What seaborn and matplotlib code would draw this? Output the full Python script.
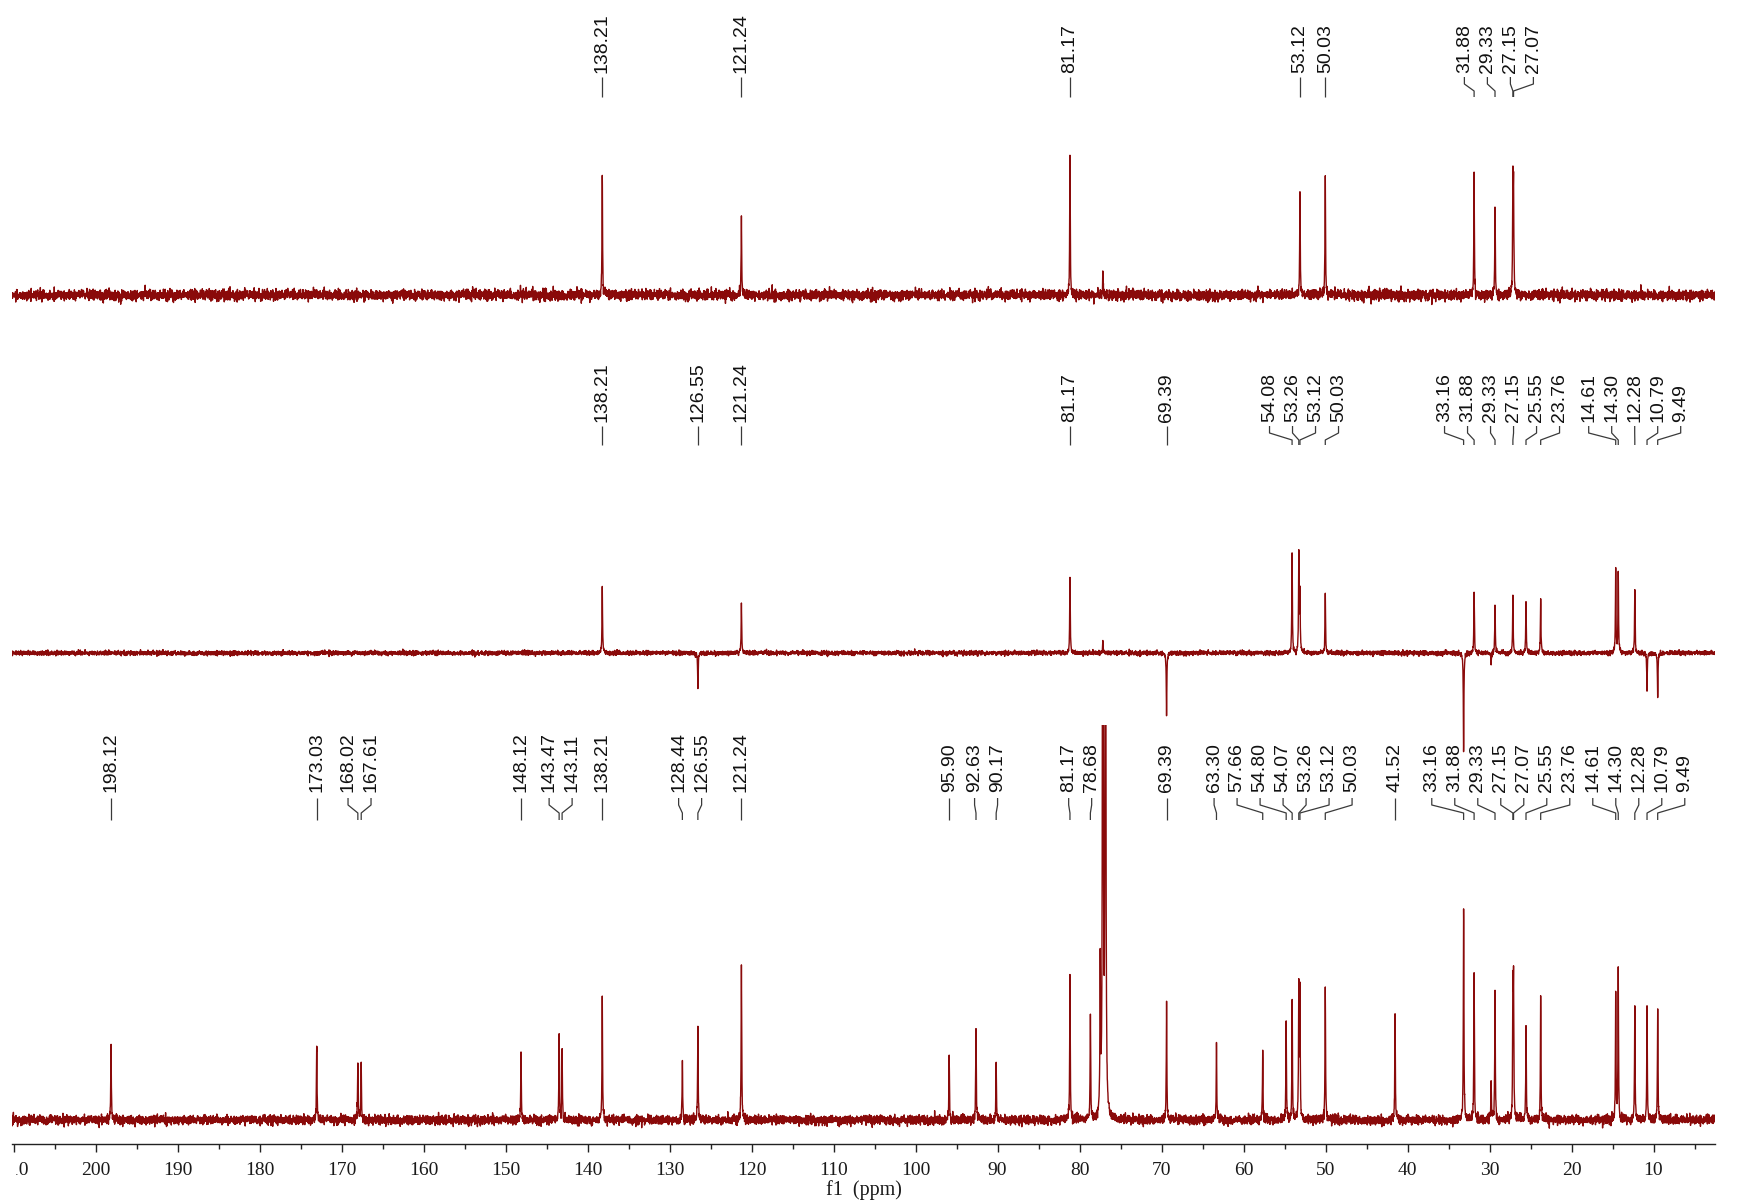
import numpy as np
import matplotlib
matplotlib.use("Agg")
import matplotlib.pyplot as plt
from matplotlib.ticker import FixedLocator, MultipleLocator
from matplotlib.transforms import Bbox
import seaborn as sns

# ---------------- data: 13C spectra (ppm, intensity; baseline = 0) ----------------
top_shift = [138.21, 121.24, 81.17, 53.12, 50.03, 31.88, 29.33, 27.15, 27.07]
top_height = [120, 78, 136, 104, 115, 122, 91, 109, 100]
top_solvent_shift = [77.16]
top_solvent_height = [23]

mid_shift = [138.21, 126.55, 121.24, 81.17, 69.39, 54.08, 53.26, 53.12, 50.03,
             33.16, 31.88, 29.33, 27.15, 25.55, 23.76, 14.61, 14.30, 12.28,
             10.79, 9.49]
mid_height = [66, -35, 49, 74, -63, 100, 100, 60, 60,
              -100, 61, 49, 58, 51, 55, 85, 80, 63,
              -37, -46]
mid_solvent_shift = [77.16, 29.80]
mid_solvent_height = [11, -11]

bot_shift = [198.12, 173.03, 168.02, 167.61, 148.12, 143.47, 143.11, 138.21,
             128.44, 126.55, 121.24, 95.90, 92.63, 90.17, 81.17, 78.68,
             69.39, 63.30, 57.66, 54.80, 54.07, 53.26, 53.12, 50.03,
             41.52, 33.16, 31.88, 29.33, 27.15, 27.07, 25.55, 23.76,
             14.61, 14.30, 12.28, 10.79, 9.49]
bot_height = [76, 75, 58, 55, 66, 82, 66, 122,
              61, 91, 156, 63, 92, 54, 139, 106,
              114, 76, 69, 96, 117, 131, 128, 127,
              106, 216, 142, 128, 126, 124, 93, 123,
              123, 151, 115, 111, 108]
bot_solvent_shift = [77.48, 77.16, 76.84, 29.80]
bot_solvent_height = [145, 1200, 1200, 37]

x_tick_values = list(range(10, 211, 10))
x_tick_labels = [str(v) for v in x_tick_values]

# ---------------- style ----------------
sns.set_style("white")
plt.rcParams["font.family"] = ["Liberation Sans", "DejaVu Sans"]

RED = "#8a0a0a"
LEADER = "#3a3a3a"
W, H = 1738, 1203
L_PX, R_PX = 12, 1715
XMAX, XMIN = 210.2, 2.5
HWHM = 0.04


def spectrum(shifts, heights, noise_sd, seed):
    grid = np.linspace(XMAX, XMIN, 11000)
    x = np.unique(np.concatenate([grid, np.asarray(shifts, float)]))[::-1]
    y = np.zeros_like(x)
    for s, h in zip(shifts, heights):
        y += h * HWHM ** 2 / ((x - s) ** 2 + HWHM ** 2)
    rng = np.random.default_rng(seed)
    y += rng.normal(0.0, noise_sd, x.size)
    return x, y


fig = plt.figure(figsize=(W / 100, H / 100), dpi=100)
fig.patch.set_facecolor("white")


def band(top_px, bottom_px):
    ax = fig.add_axes([L_PX / W, 1 - bottom_px / H, (R_PX - L_PX) / W,
                       (bottom_px - top_px) / H])
    ax.set_facecolor("none")
    ax.set_xlim(XMAX, XMIN)
    return ax


ax_top = band(100, 330)
ax_top.set_ylim(-35, 195)
ax_mid = band(445, 780)
ax_mid.set_ylim(-127, 208)
ax_bot = band(725, 1144)
ax_bot.set_ylim(-24, 395)

traces = [
    (ax_top, top_shift + top_solvent_shift, top_height + top_solvent_height, 2.6, 1),
    (ax_mid, mid_shift + mid_solvent_shift, mid_height + mid_solvent_height, 1.1, 2),
    (ax_bot, bot_shift + bot_solvent_shift, bot_height + bot_solvent_height, 2.3, 3),
]
for ax, s, h, sd, seed in traces:
    x, y = spectrum(s, h, sd, seed)
    sns.lineplot(x=x, y=y, ax=ax, color=RED, linewidth=1.0,
                 estimator=None, sort=False, errorbar=None, legend=False)
    ax.set_xlim(XMAX, XMIN)

for ax in (ax_top, ax_mid):
    ax.axis("off")

for side in ("left", "right", "top"):
    ax_bot.spines[side].set_visible(False)
ax_bot.spines["bottom"].set_color("#222222")
ax_bot.spines["bottom"].set_linewidth(1.0)
ax_bot.set_yticks([])
ax_bot.set_ylabel("")
ax_bot.xaxis.set_major_locator(FixedLocator(x_tick_values))
ax_bot.set_xticklabels(x_tick_labels)
ax_bot.xaxis.set_minor_locator(MultipleLocator(5))
ax_bot.tick_params(axis="x", which="major", direction="out", length=6, width=1,
                   color="#222222", pad=7, labelsize=14, labelcolor="#1a1a1a",
                   bottom=True)
ax_bot.tick_params(axis="x", which="minor", direction="out", length=3.5, width=1,
                   color="#222222", bottom=True)
for t in ax_bot.get_xticklabels():
    t.set_fontfamily("Liberation Serif")
ax_bot.set_xlabel("f1  (ppm)", fontsize=14.5, fontfamily="Liberation Serif",
                  color="#1a1a1a", labelpad=1)
ax_bot.set_xlim(XMAX, XMIN)

# ---------------- peak labels ----------------
ax_lab = fig.add_axes([L_PX / W, 0, (R_PX - L_PX) / W, 1])
ax_lab.set_xlim(XMAX, XMIN)
ax_lab.set_ylim(H, 0)
ax_lab.axis("off")
ax_lab.set_facecolor("none")

PX_PER_PPM = (R_PX - L_PX) / (XMAX - XMIN)
GAP = 23.0


def spread(shifts):
    px = np.array([(XMAX - s) * PX_PER_PPM for s in shifts])
    order = np.argsort(px)
    px = px[order]
    clusters = [[i] for i in range(len(px))]

    def place(c):
        centre = px[c].mean()
        m = len(c)
        return centre + (np.arange(m) - (m - 1) / 2) * GAP

    merged = True
    while merged:
        merged = False
        for k in range(len(clusters) - 1):
            a = place(clusters[k])
            b = place(clusters[k + 1])
            if b[0] - a[-1] < GAP - 1e-6:
                clusters[k] = clusters[k] + clusters[k + 1]
                del clusters[k + 1]
                merged = True
                break
    lab_px = np.concatenate([place(c) for c in clusters])
    out = np.empty_like(lab_px)
    out[order] = lab_px
    return XMAX - out / PX_PER_PPM


def draw_labels(shifts, y_text, y_lines):
    y0, y1, y2, y3 = y_lines
    for s, l in zip(shifts, spread(shifts)):
        ax_lab.plot([l, l, s, s], [y0, y1, y2, y3], color=LEADER, lw=0.9,
                    solid_capstyle="butt")
        ax_lab.text(l, y_text, f"{s:.2f}", rotation=90, ha="center", va="bottom",
                    fontsize=14, color="#111111")


draw_labels(top_shift, 73, (77, 84, 91, 97))
draw_labels(mid_shift, 422, (426, 433, 440, 445))
draw_labels(bot_shift, 792, (798, 805, 813, 820))

# the leftmost tick label runs past the plot frame and is cut at its edge
fig.canvas.draw()
for t in ax_bot.get_xticklabels():
    if t.get_text() == "210":
        t.set_clip_box(Bbox.from_extents(16, 0, W, H))
        t.set_clip_on(True)

fig.savefig("out.png", dpi=100, facecolor="white")
